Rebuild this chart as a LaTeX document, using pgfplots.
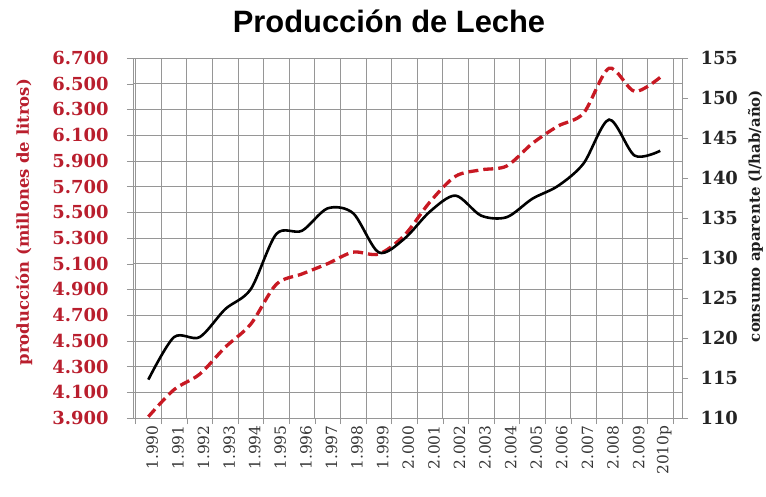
\documentclass[border=0pt]{standalone}
\usepackage{pgfplots}
\pgfplotsset{compat=1.18}
\usepackage{fontspec}
\setmainfont{DejaVu Serif}
\newfontfamily\titlefont{Liberation Sans}
\definecolor{lred}{RGB}{200,25,35}
\definecolor{tred}{RGB}{185,30,45}
\definecolor{gridc}{RGB}{150,150,150}
\pgfplotstableread{
x prod
0 3910
1 4120
2 4240
3 4450
4 4630
5 4940
6 5020
7 5100
8 5190
9 5175
10 5320
11 5580
12 5780
13 5830
14 5860
15 6035
16 6170
17 6270
18 6620
19 6440
20 6550
}\prodtable
\pgfplotstableread{
x cons
0 114.8
1 120.1
2 120.1
3 123.6
4 126.1
5 133.0
6 133.4
7 136.2
8 135.6
9 130.7
10 132.4
11 135.8
12 137.8
13 135.3
14 135.1
15 137.4
16 139.0
17 141.8
18 147.3
19 142.8
20 143.4
}\constable
\begin{document}
\begin{tikzpicture}
\path[use as bounding box] (-133bp,-79bp) rectangle (633bp,418bp);
\begin{axis}[
  at={(0,0)}, anchor=south west,
  width=549bp, height=360bp, scale only axis,
  xmin=-0.6, xmax=20.85,
  ymin=3900, ymax=6700,
  xtick={0,...,20},
  xticklabels={1.990,1.991,1.992,1.993,1.994,1.995,1.996,1.997,1.998,1.999,2.000,2.001,2.002,2.003,2.004,2.005,2.006,2.007,2.008,2.009,2010p},
  xticklabel style={rotate=90, anchor=east, yshift=-4bp, xshift=2bp, font=\fontsize{15.5}{15.5}\selectfont, text={rgb,255:red,55;green,55;blue,55}},
  major x tick style={draw=none},
  minor xtick={-0.5,0.5,...,20.5},
  xminorgrids,
  minor x tick style={gridc},
  ytick={3900,4100,...,6700},
  yticklabels={3.900,4.100,4.300,4.500,4.700,4.900,5.100,5.300,5.500,5.700,5.900,6.100,6.300,6.500,6.700},
  yticklabel style={anchor=east, xshift=-15bp, font=\bfseries\fontsize{18}{18}\selectfont, text=tred},
  ymajorgrids,
  xtick pos=bottom, ytick pos=left,
  tick align=outside,
  major tick length=6bp, minor tick length=6bp,
  y tick style={gridc},
  grid style={gridc, line width=0.7bp},
  minor grid style={gridc, line width=0.7bp},
  axis line style={gridc, line width=0.8bp},
  ylabel={producción (millones de litros)},
  ylabel style={at={(axis description cs:-0.1985,0.544)}, anchor=center, font=\bfseries\fontsize{16.5}{16.5}\selectfont, text=tred},
]
\addplot[lred, line width=3.3bp, dash pattern=on 10bp off 5bp, smooth, tension=0.5] table[x=x, y=prod] {\prodtable};
\end{axis}
\begin{axis}[
  at={(0,0)}, anchor=south west,
  width=549bp, height=360bp, scale only axis,
  xmin=-0.6, xmax=20.85,
  ymin=110, ymax=155,
  axis y line*=right, axis x line=none,
  ytick={110,115,...,155},
  tick align=outside,
  major tick length=6bp,
  y tick style={gridc},
  axis line style={gridc, line width=0.8bp},
  /pgf/number format/assume math mode=true,
  yticklabel style={anchor=west, xshift=9bp, font=\bfseries\fontsize{18}{18}\selectfont, text={rgb,255:red,35;green,35;blue,35}},
  ylabel={consumo aparente (l/hab/año)},
  ylabel style={at={(axis description cs:1.134,0.561)}, anchor=center, font=\bfseries\fontsize{15}{15}\selectfont, text={rgb,255:red,30;green,30;blue,30}},
]
\addplot[black, line width=2.6bp, smooth, tension=0.5] table[x=x, y=cons] {\constable};
\end{axis}
\node[font=\titlefont\bfseries\fontsize{31}{31}\selectfont, anchor=base] at (256bp,385bp) {Producción de Leche};
\end{tikzpicture}
\end{document}
